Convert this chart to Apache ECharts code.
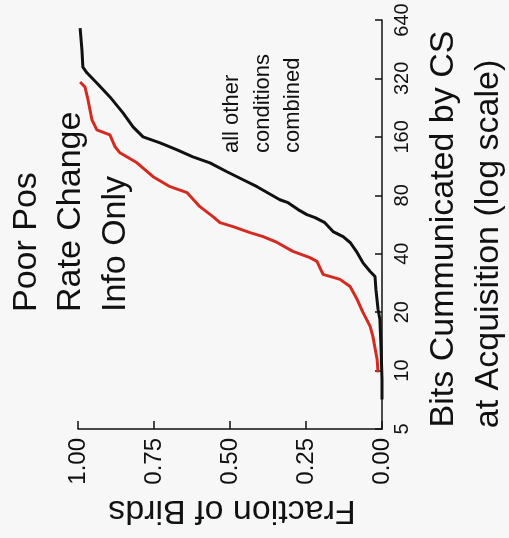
<!DOCTYPE html>
<html>
<head>
<meta charset="utf-8">
<script src="https://cdn.jsdelivr.net/npm/echarts@6/dist/echarts.min.js"></script>
<style>
html,body{margin:0;padding:0;background:#f7f7f7;}
#chart{width:509px;height:538px;}
</style>
</head>
<body>
<div id="chart"></div>
<script>
// Fraction of birds (cumulative) and bits communicated (log scale)
var otherFrac = [0.000, 0.000, 0.003, 0.007, 0.013, 0.020, 0.023, 0.039, 0.063, 0.082, 0.105, 0.128, 0.161, 0.188, 0.220, 0.247, 0.276, 0.309, 0.336, 0.411, 0.457, 0.510, 0.566, 0.622, 0.674, 0.730, 0.786, 0.819, 0.852, 0.895, 0.938, 0.970, 0.984, 0.987, 0.993];
var otherBits = [7.1, 9.0, 12.9, 18.4, 20.7, 26.2, 30.5, 32.4, 36.0, 40.6, 45.7, 49.0, 52.0, 57.8, 61.4, 63.6, 67.5, 73.3, 75.9, 88.6, 96.2, 105.8, 117.6, 126.3, 137.2, 149, 160, 180, 212.6, 257, 303, 341, 366, 448, 581];

var poorFrac = [0.013, 0.016, 0.030, 0.039, 0.063, 0.082, 0.105, 0.138, 0.194, 0.214, 0.237, 0.293, 0.345, 0.391, 0.434, 0.490, 0.533, 0.556, 0.599, 0.641, 0.697, 0.753, 0.806, 0.862, 0.878, 0.895, 0.938, 0.954, 0.967, 0.977, 0.993];
var poorBits = [9.8, 11.4, 15.0, 16.9, 20.0, 23.3, 27.1, 29.5, 31.3, 36.5, 38.2, 41.1, 45.7, 49.0, 51.4, 55.2, 57.8, 62.1, 69.9, 82.5, 88.6, 99.7, 117.6, 132.4, 142.2, 163.8, 173.8, 195.6, 247.9, 289, 307];

var bitTicks = [5, 10, 20, 40, 80, 160, 320, 640];
var fracTicks = ['0.00', '0.25', '0.50', '0.75', '1.00'];

function toPairs(fr, bits) {
  var out = [];
  for (var i = 0; i < fr.length; i++) out.push([fr[i], Math.log2(bits[i] / bitTicks[0])]);
  return out;
}

var FONT = 'Liberation Sans, Arial, sans-serif';
var chart = echarts.init(document.getElementById('chart'), null, {renderer: 'canvas'});
chart.setOption({
  animation: false,
  backgroundColor: '#f7f7f7',
  grid: {left: 78, right: 127, top: 20, bottom: 109, containLabel: false},
  xAxis: {
    type: 'value', min: 0, max: 1, interval: 0.25, inverse: true, position: 'bottom',
    axisLine: {show: true, lineStyle: {color: '#111', width: 1.5}},
    axisTick: {show: true, inside: true, length: 8, lineStyle: {color: '#111', width: 1.5}},
    splitLine: {show: false},
    axisLabel: {
      rotate: 90, margin: 9, fontSize: 24, color: '#111', fontFamily: FONT,
      formatter: function (v) { return fracTicks[Math.round(v * 4)]; }
    }
  },
  yAxis: {
    type: 'value', min: 0, max: 7, interval: 1, position: 'right',
    axisLine: {show: true, lineStyle: {color: '#111', width: 1.5}},
    axisTick: {show: true, inside: true, length: 7, lineStyle: {color: '#111', width: 1.5}},
    splitLine: {show: false},
    axisLabel: {
      rotate: 90, margin: 10, fontSize: 20, color: '#111', fontFamily: FONT,
      formatter: function (v) { return String(bitTicks[Math.round(v)]); }
    }
  },
  series: [
    {type: 'line', data: toPairs(otherFrac, otherBits), showSymbol: false, lineStyle: {color: '#111', width: 3}, z: 3},
    {type: 'line', data: toPairs(poorFrac, poorBits), showSymbol: false, lineStyle: {color: '#d42a20', width: 3}, z: 4}
  ],
  graphic: [
    {type: 'text', x: 27, y: 312, rotation: Math.PI / 2, style: {text: 'Poor Pos', font: '34px ' + FONT, fill: '#111', textAlign: 'left', textVerticalAlign: 'middle'}},
    {type: 'text', x: 71, y: 312, rotation: Math.PI / 2, style: {text: 'Rate Change', font: '34px ' + FONT, fill: '#111', textAlign: 'left', textVerticalAlign: 'middle'}},
    {type: 'text', x: 116, y: 312, rotation: Math.PI / 2, style: {text: 'Info Only', font: '34px ' + FONT, fill: '#111', textAlign: 'left', textVerticalAlign: 'middle'}},
    {type: 'text', x: 232, y: 153, rotation: Math.PI / 2, style: {text: 'all other', font: '22px ' + FONT, fill: '#111', textAlign: 'left', textVerticalAlign: 'middle'}},
    {type: 'text', x: 263, y: 153, rotation: Math.PI / 2, style: {text: 'conditions', font: '22px ' + FONT, fill: '#111', textAlign: 'left', textVerticalAlign: 'middle'}},
    {type: 'text', x: 293, y: 153, rotation: Math.PI / 2, style: {text: 'combined', font: '22px ' + FONT, fill: '#111', textAlign: 'left', textVerticalAlign: 'middle'}},
    {type: 'text', x: 444, y: 229, rotation: Math.PI / 2, style: {text: 'Bits Cummunicated by CS', font: '34px ' + FONT, fill: '#111', textAlign: 'center', textVerticalAlign: 'middle'}},
    {type: 'text', x: 489, y: 244, rotation: Math.PI / 2, style: {text: 'at Acquisition (log scale)', font: '34px ' + FONT, fill: '#111', textAlign: 'center', textVerticalAlign: 'middle'}},
    {type: 'text', x: 232, y: 510, rotation: Math.PI, style: {text: 'Fraction of Birds', font: '34px ' + FONT, fill: '#111', textAlign: 'center', textVerticalAlign: 'middle'}}
  ]
});
</script>
</body>
</html>
